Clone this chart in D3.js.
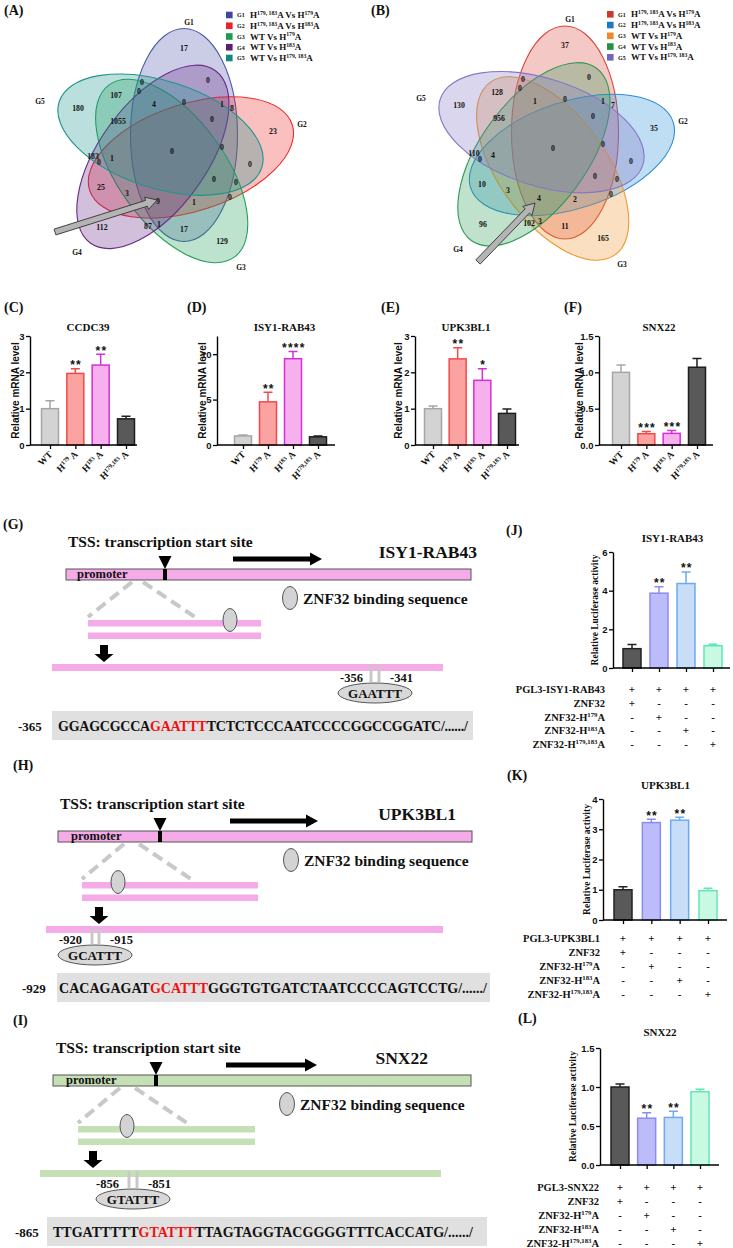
<!DOCTYPE html>
<html>
<head>
<meta charset="utf-8">
<script src="https://cdn.jsdelivr.net/npm/d3@7"></script>
<style>
  body { margin: 0; background: #fff; }
  svg { display: block; }
  text { font-family: "Liberation Serif", "Times New Roman", serif; font-weight: bold; fill: #111; }
  .sans { font-family: "Liberation Sans", Arial, sans-serif; }
</style>
</head>
<body>
<script>
// ---------- data ----------
var vennGroups = ["G1", "G2", "G3", "G4", "G5"];
var vennNames = ["H^{179, 183}A Vs H^{179}A", "H^{179, 183}A Vs H^{183}A", "WT Vs H^{179}A", "WT Vs H^{183}A", "WT Vs H^{179, 183}A"];
var vennCountsA = [17, 0, 0, 0, 107, 180, 4, 0, 1, 8, 23, 1055, 0, 0, 0, 0, 183, 0, 1, 25, 3, 9, 0, 0, 0, 1, 112, 87, 1, 17, 129];
var vennCountsB = [37, 0, 0, 0, 128, 130, 1, 0, 1, 7, 35, 956, 0, 0, 0, 0, 110, 0, 4, 10, 3, 4, 0, 0, 0, 2, 96, 102, 3, 11, 165];

var mutants = ["WT", "H^{179}A", "H^{183}A", "H^{179,183}A"];
var ccdc39 = [1.0, 1.97, 2.2, 0.72];
var ccdc39Err = [0.22, 0.13, 0.3, 0.07];
var ccdc39Sig = ["", "**", "**", ""];
var isy1 = [1.0, 4.75, 9.5, 0.9];
var isy1Err = [0.1, 1.05, 0.8, 0.1];
var isy1Sig = ["", "**", "****", ""];
var upk3 = [1.0, 2.37, 1.78, 0.87];
var upk3Err = [0.07, 0.31, 0.32, 0.12];
var upk3Sig = ["", "**", "*", ""];
var snx22 = [1.0, 0.155, 0.16, 1.07];
var snx22Err = [0.1, 0.03, 0.04, 0.12];
var snx22Sig = ["", "***", "***", ""];

var lucIsy1 = [1.0, 3.87, 4.37, 1.15];
var lucIsy1Err = [0.22, 0.33, 0.6, 0.08];
var lucUpk3 = [1.0, 3.22, 3.3, 0.97];
var lucUpk3Err = [0.1, 0.11, 0.1, 0.08];
var lucSnx22 = [1.0, 0.6, 0.61, 0.94];
var lucSnx22Err = [0.04, 0.07, 0.08, 0.03];
var lucSig = ["", "**", "**", ""];
var lucRows = ["ZNF32", "ZNF32-H^{179}A", "ZNF32-H^{183}A", "ZNF32-H^{179,183}A"];
var lucSigns = [["+", "+", "+", "+"], ["+", "-", "-", "-"], ["-", "+", "-", "-"], ["-", "-", "+", "-"], ["-", "-", "-", "+"]];

var seqG = ["GGAGCGCCA", "GAATTT", "TCTCTCCCAATCCCCGGCCGGATC/....../"];
var seqH = ["CACAGAGAT", "GCATTT", "GGGTGTGATCTAATCCCCAGTCCTG/....../"];
var seqI = ["TTGATTTTT", "GTATTT", "TTAGTAGGTACGGGGTTTCACCATG/....../"];

// ---------- palettes ----------
var vennColA = ["#4f5aa8", "#ee2a2a", "#25a05a", "#6a2a8a", "#1f958c"];
var vennKeyA = ["#3d4a9b", "#e8242a", "#1f9a50", "#5e1d74", "#16857f"];
var vennColB = ["#d9483a", "#2b8fd6", "#f0962e", "#2e9a55", "#8378c6"];
var vennKeyB = ["#c9392d", "#1f78c4", "#ee8a26", "#249048", "#7466bb"];
var mrnaFill = ["#d3d3d3", "#fba3a0", "#f6b0ee", "#595959"];
var mrnaLine = ["#a6a6a6", "#f24a4a", "#d52fd5", "#1e1e1e"];
var lucFill = ["#595959", "#bcbcfb", "#c7ddf8", "#c9f8e3"];
var lucLine = ["#222222", "#8c8cf0", "#6eaaf2", "#5fe8b4"];

// region label spots and set-name spots, relative to the venn centre
var vennSpots = [[12,-103],[36,-71],[-30,-69],[-33,-60],[-56,-56],[-94,-43],[-18,-47],[12,-49],[50,-47],[60,-43],
  [101,-20],[-54,-30],[40,-32],[0,0],[50,-4],[78,13],[-79,5],[-73,11],[-60,7],[-71,36],[-45,42],[-14,50],
  [42,28],[64,31],[58,46],[22,51],[-70,76],[-24,75],[-13,73],[12,78],[50,90]];
var vennTags = [[17,-129],[130,-27],[69,116],[-95,101],[-132,-50]];

var svg = d3.select("body").append("svg").attr("width", 733).attr("height", 1248);

// text with ^{...} superscripts
function rich(sel, str, size) {
  var parts = str.split(/(\^\{[^}]*\})/).filter(function (s) { return s.length; });
  var up = 0;
  parts.forEach(function (p) {
    var sup = p.charAt(0) === "^";
    var t = sel.append("tspan").text(sup ? p.slice(2, -1) : p);
    if (sup) {
      up = size * 0.36;
      t.attr("font-size", size * 0.64).attr("dy", -up);
    } else if (up) {
      t.attr("dy", up);
      up = 0;
    }
  });
  return sel;
}

function panelLabel(txt, x, y) {
  svg.append("text").attr("x", x).attr("y", y).attr("font-size", 14).text(txt);
}

function blockArrow(x1, y1, x2, y2, w, hw, hl) {
  var dx = x2 - x1, dy = y2 - y1, L = Math.sqrt(dx * dx + dy * dy);
  var ux = dx / L, uy = dy / L, nx = -uy, ny = ux;
  var bx = x2 - ux * hl, by = y2 - uy * hl;
  var pts = [[x1 + nx * w, y1 + ny * w], [bx + nx * w, by + ny * w], [bx + nx * hw, by + ny * hw], [x2, y2],
    [bx - nx * hw, by - ny * hw], [bx - nx * w, by - ny * w], [x1 - nx * w, y1 - ny * w]];
  return "M" + pts.map(function (p) { return p[0].toFixed(1) + "," + p[1].toFixed(1); }).join("L") + "Z";
}

// ---------- venn ----------
function drawVenn(cx, cy, counts, cols, keys, lx, ly, arrow) {
  var g = svg.append("g");
  vennGroups.forEach(function (name, k) {
    var a = k * 72 * Math.PI / 180;
    var ox = 12 * Math.cos(a) + 16 * Math.sin(a), oy = 12 * Math.sin(a) - 16 * Math.cos(a);
    g.append("ellipse").attr("rx", 53.5).attr("ry", 106.5)
      .attr("transform", "translate(" + (cx + ox) + "," + (cy + oy) + ") rotate(" + k * 72 + ")")
      .attr("fill", cols[k]).attr("fill-opacity", 0.3)
      .attr("stroke", cols[k]).attr("stroke-width", 1.1);
  });
  g.selectAll("text.tag").data(vennGroups).join("text").attr("class", "tag")
    .attr("x", function (d, i) { return cx + vennTags[i][0]; })
    .attr("y", function (d, i) { return cy + vennTags[i][1] + 2.5; })
    .attr("text-anchor", "middle").attr("font-size", 7.5).text(function (d) { return d; });
  g.selectAll("text.cnt").data(counts).join("text").attr("class", "cnt")
    .attr("x", function (d, i) { return cx + vennSpots[i][0]; })
    .attr("y", function (d, i) { return cy + vennSpots[i][1] + 2.7; })
    .attr("text-anchor", "middle").attr("font-size", 7.8).text(function (d) { return d; });
  g.append("path").attr("d", blockArrow(cx + arrow[0], cy + arrow[1], cx + arrow[2], cy + arrow[3], 3, 6.5, 11))
    .attr("fill", "#b4b4b4").attr("stroke", "#333").attr("stroke-width", 0.9);
  vennGroups.forEach(function (name, k) {
    var y = ly + k * 10.75;
    g.append("rect").attr("x", lx).attr("y", y - 3.3).attr("width", 6.6).attr("height", 6.6).attr("fill", keys[k]);
    g.append("text").attr("x", lx + 11).attr("y", y + 2.3).attr("font-size", 6).attr("font-weight", "normal").text(name);
    rich(g.append("text").attr("x", lx + 24).attr("y", y + 3).attr("font-size", 9), vennNames[k], 9);
  });
}

// ---------- bar charts ----------
function barChart(o) {
  var g = svg.append("g");
  var y = d3.scaleLinear().domain([0, o.max]).range([o.y0, o.y1]);
  var x = d3.scalePoint().domain(d3.range(o.values.length)).range([o.c0, o.c1]);
  var rows = o.values.map(function (v, i) { return { v: v, e: o.err[i], s: o.sig[i], i: i }; });

  g.selectAll("rect.bar").data(rows).join("rect").attr("class", "bar")
    .attr("x", function (d) { return x(d.i) - o.bw / 2; })
    .attr("y", function (d) { return y(d.v); })
    .attr("width", o.bw)
    .attr("height", function (d) { return o.y0 - y(d.v); })
    .attr("fill", function (d) { return o.fill[d.i]; })
    .attr("stroke", function (d) { return o.line[d.i]; })
    .attr("stroke-width", 1.5);
  g.selectAll("path.err").data(rows).join("path").attr("class", "err")
    .attr("d", function (d) {
      var t = y(d.v + d.e), c = x(d.i);
      return "M" + c + "," + y(d.v) + "V" + t + "M" + (c - 4.5) + "," + t + "H" + (c + 4.5);
    })
    .attr("stroke", function (d) { return o.line[d.i]; }).attr("stroke-width", 1.5).attr("fill", "none");
  g.selectAll("text.sig").data(rows).join("text").attr("class", "sig sans")
    .attr("x", function (d) { return x(d.i) + 0.8; })
    .attr("y", function (d) { return y(d.v + d.e) + 0.5; })
    .attr("text-anchor", "middle").attr("font-size", 12).attr("letter-spacing", 1.2)
    .text(function (d) { return d.s; });

  var ya = g.append("g").attr("transform", "translate(" + o.ax + ",0)")
    .call(d3.axisLeft(y).tickValues(o.ticks).tickFormat(o.fmt).tickSize(4).tickSizeOuter(0).tickPadding(1.5));
  ya.select(".domain").attr("stroke", "#000").attr("stroke-width", 1.4);
  ya.selectAll(".tick line").attr("stroke", "#000").attr("stroke-width", 1.3);
  ya.selectAll(".tick text").attr("class", "sans").attr("font-size", 9.5).attr("fill", "#111");
  g.append("line").attr("x1", o.ax).attr("x2", o.axEnd).attr("y1", o.y0).attr("y2", o.y0)
    .attr("stroke", "#000").attr("stroke-width", 1.4);
  var xa = g.append("g").attr("transform", "translate(0," + o.y0 + ")")
    .call(d3.axisBottom(x).tickSize(4).tickSizeOuter(0).tickFormat(""));
  xa.select(".domain").remove();
  xa.selectAll(".tick line").attr("stroke", "#000").attr("stroke-width", 1.3);

  g.append("text").attr("x", (o.c0 + o.c1) / 2 + (o.titleDx || 0)).attr("y", o.titleY + 4)
    .attr("text-anchor", "middle").attr("font-size", 11).text(o.title);
  g.append("text").attr("class", o.ySans ? "sans" : null)
    .attr("transform", "translate(" + o.ylabX + "," + (o.y0 + o.y1) / 2 + ") rotate(-90)")
    .attr("text-anchor", "middle").attr("dy", "0.35em")
    .attr("font-size", o.ySans ? 10 : 9.5).text(o.ylab);

  if (o.xlabels) {
    o.xlabels.forEach(function (lab, i) {
      rich(g.append("text").attr("text-anchor", "end").attr("font-size", 9.5)
        .attr("transform", "translate(" + (x(i) + 3) + "," + (o.y0 + 10) + ") rotate(-45)"), lab.replace("}A", "} A"), 9.5);
    });
  }
  if (o.table) {
    var labels = [o.table.first].concat(lucRows);
    labels.forEach(function (lab, r) {
      var ty = o.table.y + r * o.table.step + 4;
      rich(g.append("text").attr("x", o.table.x).attr("y", ty).attr("text-anchor", "end").attr("font-size", 10.5), lab, 10.5);
      lucSigns[r].forEach(function (s, i) {
        g.append("text").attr("x", x(i)).attr("y", ty).attr("text-anchor", "middle")
          .attr("font-size", 11).attr("font-weight", "normal").text(s);
      });
    });
  }
}

// ---------- promoter diagrams ----------
function rightArrow(x1, x2, yc) {
  return "M" + x1 + "," + (yc - 2.5) + "H" + (x2 - 12) + "V" + (yc - 6.5) + "L" + x2 + "," + yc +
    "L" + (x2 - 12) + "," + (yc + 6.5) + "V" + (yc + 2.5) + "H" + x1 + "Z";
}
function downArrow(xc, y1, y2) {
  var hy = y2 - 8;
  return "M" + (xc - 4) + "," + y1 + "H" + (xc + 4) + "V" + hy + "H" + (xc + 9.5) + "L" + xc + "," + y2 +
    "L" + (xc - 9.5) + "," + hy + "H" + (xc + -4) + "Z";
}
function oval(g, cx, cy, rx, ry, fill) {
  return g.append("ellipse").attr("cx", cx).attr("cy", cy).attr("rx", rx).attr("ry", ry)
    .attr("fill", fill).attr("stroke", "#555").attr("stroke-width", 1);
}

function drawGene(o) {
  var g = svg.append("g"), y = o.y;
  g.append("text").attr("x", o.tssTextX).attr("y", y - 22).attr("font-size", 15.5).text("TSS: transcription start site");
  g.append("path").attr("d", rightArrow(o.arrow[0], o.arrow[1], y - 10)).attr("fill", "#000");
  g.append("text").attr("x", o.nameX).attr("y", y - 11).attr("text-anchor", "end").attr("font-size", 17.5).text(o.name);
  g.append("rect").attr("x", o.bar[0]).attr("y", y).attr("width", o.bar[1] - o.bar[0]).attr("height", 11)
    .attr("fill", o.fill).attr("stroke", "#555").attr("stroke-width", 1);
  g.append("rect").attr("x", o.tss - 2).attr("y", y).attr("width", 4).attr("height", 11).attr("fill", "#000");
  g.append("path").attr("d", "M" + (o.tss - 6.5) + "," + (y - 13) + "H" + (o.tss + 6.5) + "L" + o.tss + "," + y + "Z").attr("fill", "#000");
  g.append("text").attr("x", o.promX).attr("y", y + 9).attr("font-size", 12.5).text("promoter");
  o.dash.forEach(function (d) {
    g.append("line").attr("x1", d[0]).attr("y1", y + 13).attr("x2", d[1]).attr("y2", y + 48)
      .attr("stroke", "#c8c8c8").attr("stroke-width", 4).attr("stroke-dasharray", "11,6");
  });
  oval(g, o.legendX, y + 29, 7.5, 11.5, "#d3d3d3");
  g.append("text").attr("x", o.legendX + 13).attr("y", y + 34.5).attr("font-size", 15.5).text("ZNF32 binding sequence");
  [51, 63.5].forEach(function (dy) {
    g.append("rect").attr("x", o.frag[0]).attr("y", y + dy).attr("width", o.frag[1] - o.frag[0]).attr("height", 6.5).attr("fill", o.fill);
  });
  oval(g, o.fragDot, y + 51, 7, 11.5, "#d3d3d3");
  g.append("path").attr("d", downArrow(o.down, y + 76, y + 93)).attr("fill", "#000");
  g.append("rect").attr("x", o.long[0]).attr("y", y + 95).attr("width", o.long[1] - o.long[0]).attr("height", 7).attr("fill", o.fill);
  o.ticks.forEach(function (tx) {
    g.append("line").attr("x1", tx).attr("x2", tx).attr("y1", y + 96).attr("y2", y + 113)
      .attr("stroke", "#c8c8c8").attr("stroke-width", 3);
  });
  g.append("text").attr("x", o.leftX).attr("y", y + 113).attr("text-anchor", "end").attr("font-size", 12.5).text(o.left);
  g.append("text").attr("x", o.rightX).attr("y", y + 113).attr("font-size", 12.5).text(o.right);
  oval(g, o.motifX, y + 124, 37, 10, "#d8d8d8");
  g.append("text").attr("x", o.motifX).attr("y", y + 128.5).attr("text-anchor", "middle").attr("font-size", 13).text(o.seq[1]);
  g.append("rect").attr("x", o.box[0]).attr("y", y + 142).attr("width", o.box[1] - o.box[0]).attr("height", 29).attr("fill", "#e0e0e0");
  g.append("text").attr("x", o.seqLabelX).attr("y", y + 161.5).attr("font-size", 13).text(o.seqLabel);
  var st = g.append("text").attr("x", o.seqX).attr("y", y + 162).attr("font-size", 14)
    .attr("textLength", o.seqW).attr("lengthAdjust", "spacing");
  o.seq.forEach(function (s, i) { st.append("tspan").attr("fill", i === 1 ? "#f01010" : "#111").text(s); });
}

// ---------- panels ----------
panelLabel("(A)", 4, 15);
drawVenn(172, 151, vennCountsA, vennColA, vennKeyA, 226, 15, [-117, 81, -15, 49]);
panelLabel("(B)", 371, 15);
drawVenn(553, 148.5, vennCountsB, vennColB, vennKeyB, 607, 14.3, [-75, 113.5, -18, 54.5]);

panelLabel("(C)", 4, 312);
panelLabel("(D)", 187, 312);
panelLabel("(E)", 381, 312);
panelLabel("(F)", 564, 312);
var mrnaBase = { y0: 445, y1: 336, bw: 17, titleY: 327, ylab: "Relative mRNA level", ySans: true,
  fill: mrnaFill, line: mrnaLine, xlabels: mutants };
barChart(Object.assign({}, mrnaBase, { ax: 30, axEnd: 137, c0: 50, c1: 126, max: 3, ticks: [0, 1, 2, 3], fmt: d3.format("d"),
  values: ccdc39, err: ccdc39Err, sig: ccdc39Sig, title: "CCDC39", ylabX: 15 }));
barChart(Object.assign({}, mrnaBase, { ax: 217, axEnd: 335, c0: 243, c1: 318, max: 12, ticks: [0, 5, 10], fmt: d3.format("d"),
  values: isy1, err: isy1Err, sig: isy1Sig, title: "ISY1-RAB43", titleDx: 4, ylabX: 202 }));
barChart(Object.assign({}, mrnaBase, { ax: 415, axEnd: 519, c0: 433, c1: 507, max: 3, ticks: [0, 1, 2, 3], fmt: d3.format("d"),
  values: upk3, err: upk3Err, sig: upk3Sig, title: "UPK3BL1", titleDx: -4, ylabX: 398 }));
barChart(Object.assign({}, mrnaBase, { ax: 599, axEnd: 713, c0: 621, c1: 697, max: 1.5, ticks: [0, 0.5, 1, 1.5], fmt: d3.format(".1f"),
  values: snx22, err: snx22Err, sig: snx22Sig, title: "SNX22", ylabX: 579 }));

var lucBase = { bw: 18, ylab: "Relative Luciferase activity", ySans: false, fill: lucFill, line: lucLine, sig: lucSig };
panelLabel("(J)", 506, 535);
barChart(Object.assign({}, lucBase, { ax: 613, axEnd: 730, c0: 632, c1: 713, y0: 668, y1: 552, max: 6, ticks: [0, 2, 4, 6],
  fmt: d3.format("d"), values: lucIsy1, err: lucIsy1Err, title: "ISY1-RAB43", titleY: 538, ylabX: 595,
  table: { first: "PGL3-ISY1-RAB43", x: 605, y: 689, step: 13.8 } }));
panelLabel("(K)", 507, 780);
barChart(Object.assign({}, lucBase, { ax: 603, axEnd: 727, c0: 623, c1: 708, y0: 920, y1: 799, max: 4, ticks: [0, 1, 2, 3, 4],
  fmt: d3.format("d"), values: lucUpk3, err: lucUpk3Err, title: "UPK3BL1", titleY: 785, ylabX: 587,
  table: { first: "PGL3-UPK3BL1", x: 600, y: 938, step: 14 } }));
panelLabel("(L)", 518, 1023);
barChart(Object.assign({}, lucBase, { ax: 600, axEnd: 719, c0: 620, c1: 700, y0: 1165, y1: 1048, max: 1.5, ticks: [0, 0.5, 1, 1.5],
  fmt: d3.format(".1f"), values: lucSnx22, err: lucSnx22Err, title: "SNX22", titleY: 1032, ylabX: 573,
  table: { first: "PGL3-SNX22", x: 599, y: 1187, step: 14 } }));

var pink = "#f5abe8", green = "#c6e0b5";
panelLabel("(G)", 3, 529);
drawGene({ y: 569, fill: pink, name: "ISY1-RAB43", tssTextX: 68, tss: 165, arrow: [233, 322], nameX: 477, bar: [66, 471],
  promX: 77, dash: [[132, 88], [143, 195]], legendX: 290, frag: [88, 261], fragDot: 230, down: 104, long: [52, 443],
  ticks: [371, 379], left: "-356", leftX: 363, right: "-341", rightX: 390, motifX: 375,
  box: [52, 473], seqLabel: "-365", seqLabelX: 18, seqX: 58, seqW: 410, seq: seqG });
panelLabel("(H)", 13, 770);
drawGene({ y: 831, fill: pink, name: "UPK3BL1", tssTextX: 60, tss: 160, arrow: [230, 318], nameX: 456, bar: [58, 472],
  promX: 71, dash: [[124, 82], [139, 191]], legendX: 291, frag: [82, 258], fragDot: 118, down: 99, long: [46, 443],
  ticks: [92, 99], left: "-920", leftX: 82, right: "-915", rightX: 110, motifX: 95,
  box: [57, 490], seqLabel: "-929", seqLabelX: 22, seqX: 59, seqW: 428, seq: seqH });
panelLabel("(I)", 13, 1025);
drawGene({ y: 1075, fill: green, name: "SNX22", tssTextX: 56, tss: 156, arrow: [226, 317], nameX: 428, bar: [53, 471],
  promX: 66, dash: [[120, 78], [135, 187]], legendX: 287, frag: [78, 255], fragDot: 127, down: 93, long: [40, 441],
  ticks: [129, 137], left: "-856", leftX: 119, right: "-851", rightX: 148, motifX: 133,
  box: [47, 487], seqLabel: "-865", seqLabelX: 15, seqX: 53, seqW: 420, seq: seqI });
</script>
</body>
</html>
